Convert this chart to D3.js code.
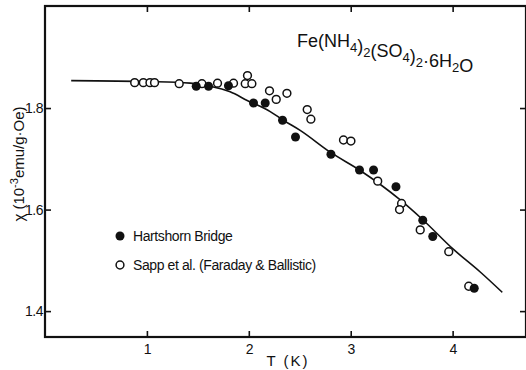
<!DOCTYPE html>
<html>
<head>
<meta charset="utf-8">
<script src="https://cdn.jsdelivr.net/npm/d3@7"></script>
<style>
  body { margin: 0; background: #fff; }
  svg { display: block; }
  text { font-family: "Liberation Sans Narrow", "Liberation Sans", Arial, sans-serif; fill: #111; }
</style>
</head>
<body>
<div id="chart"></div>
<script>
// ---------------------------------------- //
// DATA
// Hartshorn Bridge (filled circles)
var bridgeT   = [1.484, 1.605, 1.80, 2.046, 2.161, 2.331, 2.458, 2.806, 3.086, 3.224, 3.444, 3.707, 3.805, 4.212];
var bridgeChi = [1.843, 1.843, 1.844, 1.810, 1.810, 1.776, 1.743, 1.709, 1.678, 1.678, 1.645, 1.579, 1.547, 1.445];

// Sapp et al. (open circles)
var sappT   = [0.88, 0.965, 1.03, 1.075, 1.317, 1.54, 1.693, 1.85, 1.965, 1.987, 2.03, 2.203, 2.269, 2.374,
               2.573, 2.609, 2.929, 3.002, 3.265, 3.499, 3.479, 3.682, 3.962, 4.158];
var sappChi = [1.850, 1.850, 1.850, 1.850, 1.848, 1.848, 1.849, 1.849, 1.848, 1.864, 1.848, 1.834, 1.817, 1.829,
               1.797, 1.778, 1.737, 1.735, 1.656, 1.612, 1.600, 1.560, 1.517, 1.449];

// Theory curve
var curveT   = [0.257, 1.032, 1.425, 1.621, 1.817, 1.984, 2.210, 2.338, 2.504, 2.799, 3.093, 3.486, 3.702, 4.006, 4.271, 4.487];
var curveChi = [1.854, 1.852, 1.849, 1.843, 1.832, 1.815, 1.793, 1.776, 1.756, 1.713, 1.677, 1.619, 1.581, 1.522, 1.477, 1.437];

// Axis ticks
var xTicks = [1, 2, 3, 4];
var yTicks = [1.4, 1.6, 1.8];

// Legend entries
var legendLabels = ["Hartshorn Bridge", "Sapp et al. (Faraday & Ballistic)"];
var legendFilled = [true, false];

// ---------------------------------------- //
// SVG setup
var svgWidth = 526;
var svgHeight = 370;
var margin = { top: 6, right: 0, bottom: 33, left: 45 };
var width = svgWidth - margin.left - margin.right;
var height = svgHeight - margin.top - margin.bottom;

var svg = d3.select("#chart")
  .append("svg")
  .attr("width", svgWidth)
  .attr("height", svgHeight);

var chartGroup = svg.append("g")
  .attr("transform", `translate(${margin.left}, ${margin.top})`);

// scales
var xScale = d3.scaleLinear().domain([0, 4.72]).range([0, width]);
var yScale = d3.scaleLinear().domain([1.349, 2.001]).range([height, 0]);

// ---------------------------------------- //
// AXES - inward ticks on all four sides
var bottomAxis = d3.axisBottom(xScale).tickValues(xTicks).tickSize(-6).tickPadding(7).tickFormat(d3.format("d"));
var topAxis = d3.axisTop(xScale).tickValues(xTicks).tickSize(-6).tickFormat("");
var leftAxis = d3.axisLeft(yScale).tickValues(yTicks).tickSize(-6).tickPadding(2).tickFormat(d3.format(".1f"));
var rightAxis = d3.axisRight(yScale).tickValues(yTicks).tickSize(-6).tickFormat("");

function styleAxis(g) {
  g.select(".domain").remove();
  g.selectAll(".tick line").attr("stroke", "#111").attr("stroke-width", 1.6);
  g.selectAll(".tick text")
    .style("font-family", "'Liberation Sans Narrow', 'Liberation Sans', sans-serif")
    .style("font-size", "14px")
    .style("letter-spacing", "-0.5px")
    .attr("fill", "#111");
}

chartGroup.append("g")
  .attr("transform", `translate(0, ${height})`)
  .call(bottomAxis)
  .call(styleAxis);
chartGroup.append("g")
  .call(topAxis)
  .call(styleAxis);
chartGroup.append("g")
  .call(leftAxis)
  .call(styleAxis);
chartGroup.append("g")
  .attr("transform", `translate(${width}, 0)`)
  .call(rightAxis)
  .call(styleAxis);

// frame
chartGroup.append("rect")
  .attr("x", 0)
  .attr("y", 0)
  .attr("width", width)
  .attr("height", height)
  .attr("fill", "none")
  .attr("stroke", "#111")
  .attr("stroke-width", 2.2);

// ---------------------------------------- //
// CURVE
var curveData = curveT.map((t, i) => ({ t: t, chi: curveChi[i] }));
var line = d3.line()
  .x(d => xScale(d.t))
  .y(d => yScale(d.chi))
  .curve(d3.curveMonotoneX);

chartGroup.append("path")
  .datum(curveData)
  .attr("d", line)
  .attr("fill", "none")
  .attr("stroke", "#111")
  .attr("stroke-width", 1.6);

// ---------------------------------------- //
// POINTS
var sappData = sappT.map((t, i) => ({ t: t, chi: sappChi[i] }));
var bridgeData = bridgeT.map((t, i) => ({ t: t, chi: bridgeChi[i] }));

chartGroup.selectAll("circle.sapp")
  .data(sappData)
  .enter()
  .append("circle")
  .classed("sapp", true)
  .attr("cx", d => xScale(d.t))
  .attr("cy", d => yScale(d.chi))
  .attr("r", 3.9)
  .attr("fill", "#fff")
  .attr("stroke", "#111")
  .attr("stroke-width", 1.5);

chartGroup.selectAll("circle.bridge")
  .data(bridgeData)
  .enter()
  .append("circle")
  .classed("bridge", true)
  .attr("cx", d => xScale(d.t))
  .attr("cy", d => yScale(d.chi))
  .attr("r", 4.5)
  .attr("fill", "#111");

// ---------------------------------------- //
// LEGEND
var legend = chartGroup.append("g")
  .attr("transform", "translate(75, 230)");

var legendRows = legend.selectAll("g")
  .data(legendLabels)
  .enter()
  .append("g")
  .attr("transform", (d, i) => `translate(0, ${i * 29})`);

legendRows.append("circle")
  .attr("cx", 0)
  .attr("cy", 0)
  .attr("r", (d, i) => legendFilled[i] ? 4.5 : 3.9)
  .attr("fill", (d, i) => legendFilled[i] ? "#111" : "#fff")
  .attr("stroke", "#111")
  .attr("stroke-width", (d, i) => legendFilled[i] ? 0 : 1.5);

legendRows.append("text")
  .attr("x", 13)
  .attr("y", 5)
  .style("font-size", "14px")
  .style("letter-spacing", "-0.4px")
  .text(d => d);

// ---------------------------------------- //
// TITLE - chemical formula with subscripts
var title = svg.append("text")
  .attr("x", 297)
  .attr("y", 47)
  .style("font-size", "18px");
var titleParts = [["Fe(NH", 0], ["4", 1], [")", 0], ["2", 1], ["(SO", 0], ["4", 1], [")", 0], ["2", 1], ["·6H", 0], ["2", 1], ["O", 0]];
titleParts.forEach(p => {
  title.append("tspan")
    .attr("dy", p[1] ? 5 : null)
    .style("font-size", p[1] ? "13px" : null)
    .text(p[0]);
  if (p[1]) title.append("tspan").attr("dy", -5).text("");
});

// ---------------------------------------- //
// AXIS LABELS
svg.append("text")
  .attr("x", 288)
  .attr("y", 366)
  .attr("text-anchor", "middle")
  .style("font-size", "15px")
  .style("letter-spacing", "2px")
  .text("T (K)");

var yLabel = svg.append("text")
  .attr("transform", "translate(24, 164) rotate(-90)")
  .attr("text-anchor", "middle")
  .style("font-size", "15px");
yLabel.append("tspan").text("χ (10");
yLabel.append("tspan").attr("dy", -6).style("font-size", "11px").text("-3");
yLabel.append("tspan").attr("dy", 6).text("emu/g·Oe)");
</script>
</body>
</html>
